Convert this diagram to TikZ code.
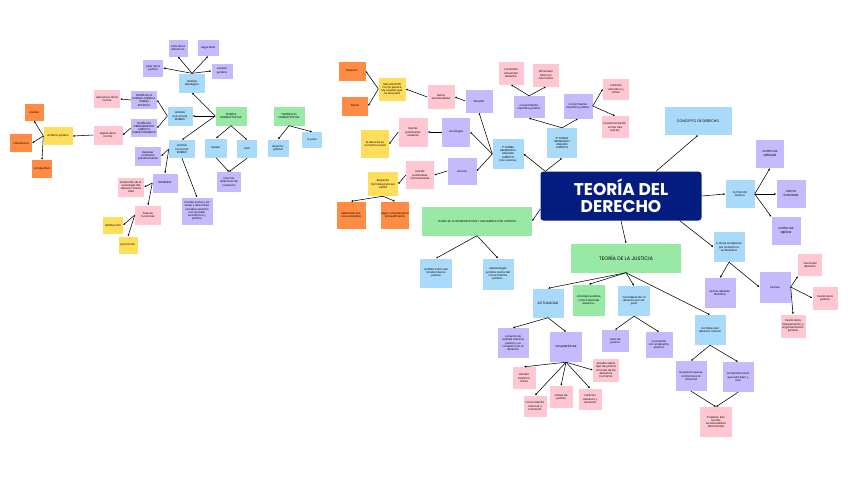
\documentclass[tikz,border=0pt]{standalone}
\usepackage{fontspec}
\setmainfont{Poppins}
\usetikzlibrary{arrows.meta}
\definecolor{purp}{RGB}{197,186,252}
\definecolor{blu}{RGB}{170,218,250}
\definecolor{pnk}{RGB}{255,199,210}
\definecolor{grn}{RGB}{152,232,166}
\definecolor{ylw}{RGB}{255,222,92}
\definecolor{org}{RGB}{255,140,68}
\definecolor{navy}{RGB}{4,28,128}
\tikzset{
  card/.style={draw=none, inner sep=0.5pt, align=center, font=\fontsize{2.7}{3.2}\selectfont},
  sz/.style 2 args={minimum width=#1pt, minimum height=#2pt},
  purpcard/.style={card, fill=purp},
  blucard/.style={card, fill=blu},
  pnkcard/.style={card, fill=pnk},
  grncard/.style={card, fill=grn},
  ylwcard/.style={card, fill=ylw},
  orgcard/.style={card, fill=org},
  link/.style={-{Latex[length=2pt,width=2pt]}, line width=0.55pt}
}
\begin{document}
\begin{tikzpicture}[x=1pt,y=-1pt]
\useasboundingbox (0,0) rectangle (848,477);

% Left cluster: teorias normativistas
\node[purpcard, sz={19}{17}] (efic) at (178,48) {valor de la\\eficiencia};
\node[purpcard, sz={21}{16}] (segur) at (208,48) {seguridad};
\node[purpcard, sz={20}{17}] (vjust) at (153,68) {valor de la\\justicia};
\node[purpcard, sz={21}{15}] (certeza) at (222,71) {certeza\\jurídica};
\node[blucard, sz={26}{19}] (ideol) at (192,83) {análisis\\ideológico};
\node[grncard, sz={31}{19}] (tnorm) at (231,116) {TEORÍAS\\NORMATIVISTAS};
\node[blucard, sz={25}{19}] (estruc) at (180,116) {análisis\\estructural\\BOBBIO};
\node[purpcard, sz={26}{18}] (tnormj) at (144,100) {TEORÍA DE LA\\NORMA JURÍDICA\\(OBRA)\\ESTÁTICA};
\node[purpcard, sz={26}{18}] (tordj) at (144,128) {TEORÍA DEL\\ORDENAMIENTO\\JURÍDICO\\(OBRA) DINÁMICA};
\node[pnkcard, sz={26}{18}] (estnorma) at (107,99) {estructura de la\\norma};
\node[pnkcard, sz={29}{19}] (objnorma) at (108,135) {objeto de la\\norma};
\node[ylwcard, sz={29}{18}] (sisjur) at (58,136) {sistema jurídico};
\node[orgcard, sz={19}{17}] (unidad) at (34,112) {unidad};
\node[orgcard, sz={22}{18}] (coher) at (21,143) {coherencia};
\node[orgcard, sz={20}{18}] (complet) at (42,169) {completitud};
\node[blucard, sz={26}{18}] (funcio) at (182,149) {análisis\\funcional\\BOBBIO};
\node[blucard, sz={22}{19}] (kelsen) at (216,148) {Kelsen};
\node[blucard, sz={20}{18}] (hart) at (247,149) {Hart};
\node[purpcard, sz={24}{20}] (normdir) at (229,182) {Normas\\directivas de\\conducta};
\node[purpcard, sz={26}{19}] (confl) at (148,156) {Resolver\\conflictos\\pacíficamente};
\node[purpcard, sz={25}{19}] (inter) at (165,183) {INTERESES};
\node[purpcard, sz={31}{27}] (mundo) at (197,211) {mundo social y los\\seres y relaciones\\sociales, relación\\con el orden\\económico y\\político};
\node[pnkcard, sz={26}{19}] (socio2gm) at (131,187) {Desarrollo de la\\sociología del\\derecho tras la\\2GM};
\node[pnkcard, sz={26}{19}] (nuevas) at (148,215) {Nuevas\\funciones};
\node[ylwcard, sz={20}{17}] (distri) at (113,225) {distribución};
\node[ylwcard, sz={19}{17}] (promo) at (128,245) {promoción};
\node[grncard, sz={31}{19}] (tnonorm) at (289,116) {TEORÍAS NO\\NORMATIVISTAS};
\node[blucard, sz={21}{17}] (djudic) at (278,148) {derecho\\judicial};
\node[blucard, sz={20}{16}] (lojusto) at (312,140) {lo justo};

\draw[link] (ideol.north) -- (efic.south);
\draw[link] (ideol.north) -- (segur.south);
\draw[link] (ideol.north) -- (vjust.east);
\draw[link] (ideol.north) -- (certeza.west);
\draw[link] (tnorm.west) -- (ideol.south);
\draw[link] (tnorm.west) -- (estruc.east);
\draw[link] (tnorm.west) -- (funcio.north);
\draw[link] (estruc.west) -- (tnormj.east);
\draw[link] (estruc.west) -- (tordj.east);
\draw[link] (tnormj.west) -- (estnorma.east);
\draw[link] (tordj.west) -- (objnorma.east);
\draw[link] (objnorma.west) -- (sisjur.east);
\draw[link] (sisjur.west) -- (unidad.south);
\draw[link] (sisjur.west) -- (coher.east);
\draw[link] (sisjur.west) -- (complet.north);
\draw[link] (tnorm.south) -- (kelsen.north);
\draw[link] (tnorm.south) -- (hart.north);
\draw[link] (kelsen.south) -- (normdir.north);
\draw[link] (hart.south) -- (normdir.north);
\draw[link] (funcio.west) -- (confl.east);
\draw[link] (funcio.west) -- (inter.north);
\draw[link] (funcio.south) -- (mundo.north);
\draw[link] (inter.west) -- (socio2gm.east);
\draw[link] (inter.west) -- (nuevas.north);
\draw[link] (nuevas.west) -- (distri.east);
\draw[link] (nuevas.west) -- (promo.north);
\draw[link] (tnonorm.south) -- (djudic.north);
\draw[link] (tnonorm.south) -- (lojusto.north);

% Top middle: 1a forma
\node[orgcard, sz={27}{19}] (derecho) at (352,71) {Derecho};
\node[orgcard, sz={26}{19}] (moral) at (355,106) {Moral};
\node[ylwcard, sz={27}{23}] (agustin) at (392,89) {SAN AGUSTÍN\\no me parece\\ley aquella que\\no sea justa};
\node[pnkcard, sz={27}{24}] (iusnat) at (441,97) {teoría\\iusnaturalista};
\node[purpcard, sz={27}{23}] (filos) at (479,101) {filosofía};
\node[pnkcard, sz={29}{29}] (posreal) at (413,132) {teorías\\positivistas\\realistas};
\node[purpcard, sz={28}{29}] (socio) at (456,132) {sociología};
\node[ylwcard, sz={28}{28}] (hecho) at (375,144) {el derecho es\\un hecho social};
\node[pnkcard, sz={28}{28}] (posnorm) at (420,175) {teorías\\positivistas\\normativistas};
\node[purpcard, sz={29}{27}] (ciencia) at (462,171) {ciencia};
\node[blucard, sz={31}{30}] (forma1) at (508,154) {1ª FORMA\\ABORDAR EL\\ANÁLISIS\\JURÍDICO\\tres visiones};
\node[ylwcard, sz={30}{24}] (requis) at (383,184) {Requisito\\formales para ser\\válido};
\node[orgcard, sz={29}{27}] (autor) at (351,215) {elaborado por\\una autoridad};
\node[orgcard, sz={28}{27}] (legal) at (395,215) {legal, cumpliendo el\\procedimiento};

\draw[link] (agustin.west) -- (derecho.east);
\draw[link] (agustin.west) -- (moral.east);
\draw[link] (iusnat.west) -- (agustin.east);
\draw[link] (filos.west) -- (iusnat.east);
\draw[link] (socio.west) -- (posreal.east);
\draw[link] (posreal.west) -- (hecho.east);
\draw[link] (ciencia.west) -- (posnorm.east);
\draw[link] (posnorm.west) -- (requis.east);
\draw[link] (requis.south) -- (autor.north);
\draw[link] (requis.south) -- (legal.north);
\draw[link] (forma1.west) -- (filos.south);
\draw[link] (forma1.west) -- (socio.east);
\draw[link] (forma1.west) -- (ciencia.east);

% Top right: 2a forma
\node[pnkcard, sz={25}{23}] (contact) at (511,73) {contenido\\actual del\\derecho};
\node[pnkcard, sz={26}{23}] (dimens) at (546,75) {dimensión\\fáctica y\\normativa};
\node[purpcard, sz={31}{22}] (cientif) at (529,107) {conocimiento\\científico jurídico};
\node[purpcard, sz={29}{25}] (filosof) at (578,106) {conocimiento\\filosófico jurídico};
\node[pnkcard, sz={26}{21}] (valcrit) at (616,89) {carácter\\valorativo y\\crítico};
\node[pnkcard, sz={27}{22}] (fundam) at (615,127) {fundamentación\\en las tres\\teorías};
\node[blucard, sz={30}{30}] (forma2) at (562,143) {2ª FORMA\\ABORDAR EL\\ANÁLISIS\\JURÍDICO};

\draw[link] (forma2.north) -- (cientif.south);
\draw[link] (forma2.north) -- (filosof.south);
\draw[link] (cientif.north) -- (contact.south);
\draw[link] (cientif.north) -- (dimens.south);
\draw[link] (filosof.east) -- (valcrit.west);
\draw[link] (filosof.east) -- (fundam.north);

% Centre
\node[fill=navy, rounded corners=3pt, minimum width=161pt, minimum height=49pt, align=center, text=white, font=\fontsize{17}{17.5}\selectfont\bfseries] (teoria) at (621,196) {TEORÍA DEL\\DERECHO};
\coordinate (thub) at ([xshift=5pt]teoria.north west);
\coordinate (tne) at ([xshift=35pt]teoria.north);
\coordinate (tse) at ([xshift=-22pt]teoria.south east);
\coordinate (tw) at ([yshift=-13pt]teoria.west);

\draw[link] (thub) -- (forma1.east);
\draw[link] (thub) -- (forma2.south);

% Right side
\node[blucard, sz={67}{28}, font=\fontsize{3.6}{4}\selectfont] (concep) at (698,121) {CONCEPTO DE DERECHO};
\node[blucard, sz={29}{28}] (formas) at (740,194) {Formación\\básica};
\node[purpcard, sz={28}{28}, font=\fontsize{3.4}{4}\selectfont] (articula) at (770,154) {como se\\articula};
\node[purpcard, sz={29}{28}, font=\fontsize{3.4}{4}\selectfont] (funciona) at (791,194) {como\\funciona};
\node[purpcard, sz={29}{28}, font=\fontsize{3.4}{4}\selectfont] (aplica) at (786,231) {como se\\aplica};
\node[blucard, sz={31}{30}] (obras) at (729,247) {2 obras escépticas\\por la doctrina\\iusfilosófica};
\node[purpcard, sz={31}{30}] (temas) at (720,293) {temas reflexión\\filosófica};
\node[purpcard, sz={31}{31}] (teorias) at (775,287) {Teorías};
\node[pnkcard, sz={24}{22}] (tder) at (810,265) {Teoría del\\derecho};
\node[pnkcard, sz={25}{23}] (tjus) at (825,298) {Teoría de la\\justicia};
\node[pnkcard, sz={25}{23}] (tinter) at (793,326) {Teoría de la\\interpretación y\\argumentación\\jurídica};

\draw[link] (tne) -- (concep.south);
\draw[link] (teoria.east) -- (formas.west);
\draw[link] (formas.east) -- (articula.south);
\draw[link] (formas.east) -- (funciona.west);
\draw[link] (formas.east) -- (aplica.north west);
\draw[link] (tse) -- (obras.west);
\draw[link] (obras.south) -- (temas.north);
\draw[link] (obras.south) -- (teorias.west);
\draw[link] (teorias.east) -- (tder.south west);
\draw[link] (teorias.east) -- (tjus.west);
\draw[link] (teorias.east) -- (tinter.north);

% Bottom: interpretacion y justicia
\node[grncard, sz={110}{29}] (tiaj) at (477,221) {TEORÍA DE LA INTERPRETACIÓN Y ARGUMENTACIÓN JURÍDICA};
\node[blucard, sz={32}{29}] (critico) at (436,273) {análisis crítico de\\la labor de los\\juristas};
\node[blucard, sz={31}{31}] (metodo) at (498,274) {Metodología\\jurídica, teoría del\\conocimiento\\jurídico...};
\node[grncard, sz={110}{29}, font=\fontsize{5}{6}\selectfont] (tjust) at (626,258) {TEORÍA DE LA JUSTICIA};
\node[blucard, sz={31}{29}, font=\fontsize{3.4}{4}\selectfont] (actual) at (548,303) {ACTUALIDAD};
\node[grncard, sz={32}{31}] (ontol) at (589,300) {ontología jurídica,\\crítica ideal del\\derecho...};
\node[blucard, sz={32}{30}] (consid) at (634,301) {Consideración al\\derecho por ser\\justo};
\node[purpcard, sz={31}{30}] (conjun) at (513,343) {conjunto de\\análisis sobre la\\justicia y su\\conexión con el\\derecho};
\node[purpcard, sz={32}{30}, font=\fontsize{3.2}{4}\selectfont] (ocupa) at (566,347) {ocupaciones};
\node[purpcard, sz={27}{22}] (vjusticia) at (615,341) {valor de\\justicia};
\node[purpcard, sz={27}{26}] (relpos) at (659,345) {su relación\\con el derecho\\positivo};
\node[pnkcard, sz={23}{22}] (histo) at (524,378) {estudio\\histórico\\crítico};
\node[pnkcard, sz={23}{21}] (racional) at (535,406) {conocimiento\\racional o\\irracional};
\node[pnkcard, sz={23}{22}] (clases) at (561,397) {clases de\\justicia};
\node[pnkcard, sz={23}{21}] (absol) at (590,399) {carácter\\absoluto y\\universal};
\node[pnkcard, sz={26}{23}] (ddhh) at (606,370) {estudio sobre\\tipo de justicia\\a través de los\\derechos\\humanos};
\node[blucard, sz={31}{30}] (hombres) at (710,330) {Hombres del\\derecho natural};
\node[purpcard, sz={31}{30}] (voluntad) at (691,376) {es justo lo que es\\conforme a la\\voluntad};
\node[purpcard, sz={31}{30}] (moralbm) at (738,377) {contenido moral\\que está bien y\\mal};
\node[pnkcard, sz={32}{30}] (pruebas) at (716,422) {Pruebas: tres\\teorías\\iusnaturalistas\\dominantes};

\draw[link] (tw) -- (tiaj.east);
\draw[link] (tiaj.south) -- (critico.north);
\draw[link] (tiaj.south) -- (metodo.north);
\draw[link] (teoria.south) -- (tjust.north);
\draw[link] (tjust.south) -- (actual.north);
\draw[link] (tjust.south) -- (ontol.north);
\draw[link] (tjust.south) -- (consid.north);
\draw[link] (tjust.south) -- (hombres.north);
\draw[link] (actual.south) -- (conjun.north);
\draw[link] (actual.south) -- (ocupa.north);
\draw[link] (consid.south) -- (vjusticia.north);
\draw[link] (consid.south) -- (relpos.north);
\draw[link] (ocupa.south) -- (histo.north);
\draw[link] (ocupa.south) -- (racional.north);
\draw[link] (ocupa.south) -- (clases.north);
\draw[link] (ocupa.south) -- (absol.north);
\draw[link] (ocupa.south) -- (ddhh.west);
\draw[link] (hombres.south) -- (voluntad.north);
\draw[link] (hombres.south) -- (moralbm.north);
\draw[link] (voluntad.south) -- (pruebas.north);
\draw[link] (moralbm.south) -- (pruebas.north);

\end{tikzpicture}
\end{document}
